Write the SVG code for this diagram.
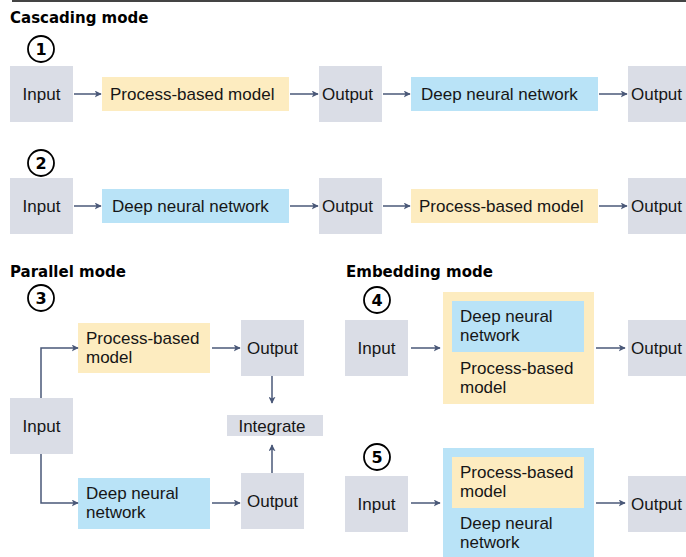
<svg xmlns="http://www.w3.org/2000/svg" width="686" height="557" viewBox="0 0 686 557">
  <style>
    .io { fill: #dadde6; }
    .pbm { fill: #fdecc0; }
    .dnn { fill: #b9e3f7; }
    .lbl { font-family: "Liberation Sans", Arial, sans-serif; font-size: 17px; fill: #161616; }
    .mid { text-anchor: middle; }
    .title { font-family: "DejaVu Sans", "Liberation Sans", sans-serif; font-weight: bold; font-size: 15px; fill: #000; }
    .num circle { fill: #fff; stroke: #000; stroke-width: 1.8; }
    .num text { font-family: "DejaVu Sans", "Liberation Sans", sans-serif; font-weight: bold; font-size: 16px; text-anchor: middle; fill: #000; }
    .conn { fill: none; stroke: #4a5878; stroke-width: 1.5; marker-end: url(#arrow); }
  </style>
  <defs>
    <marker id="arrow" viewBox="0 0 10 10" refX="9" refY="5" markerWidth="7" markerHeight="7" markerUnits="userSpaceOnUse" orient="auto">
      <path d="M0,0 L10,5 L0,10 L2.5,5 Z" fill="#4a5878"/>
    </marker>
  </defs>

  <rect x="0" y="0" width="686" height="557" fill="#fff"/>
  <line x1="12" y1="1" x2="686" y2="1" stroke="#444" stroke-width="2"/>

  <!-- section titles -->
  <text class="title" x="10" y="23">Cascading mode</text>
  <text class="title" x="10" y="277">Parallel mode</text>
  <text class="title" x="346" y="277">Embedding mode</text>

  <!-- step numbers -->
  <g class="num" id="num1"><circle cx="41" cy="49" r="13"/><text x="41" y="55">1</text></g>
  <g class="num" id="num2"><circle cx="41" cy="163" r="13"/><text x="41" y="169">2</text></g>
  <g class="num" id="num3"><circle cx="41" cy="298" r="13"/><text x="41" y="304">3</text></g>
  <g class="num" id="num4"><circle cx="377" cy="300" r="13"/><text x="377" y="306">4</text></g>
  <g class="num" id="num5"><circle cx="377" cy="457" r="13"/><text x="377" y="463">5</text></g>

  <!-- cascading 1 -->
  <g id="c1-input"><rect class="io" x="10" y="66" width="63" height="56"/><text class="lbl mid" x="41.5" y="100">Input</text></g>
  <g id="c1-pbm"><rect class="pbm" x="102" y="77" width="187" height="34"/><text class="lbl" x="110" y="100">Process-based model</text></g>
  <g id="c1-out1"><rect class="io" x="319" y="66" width="63" height="56"/><text class="lbl" x="322" y="100">Output</text></g>
  <g id="c1-dnn"><rect class="dnn" x="411" y="77" width="187" height="34"/><text class="lbl" x="421" y="100">Deep neural network</text></g>
  <g id="c1-out2"><rect class="io" x="628" y="66" width="58" height="56"/><text class="lbl" x="631" y="100">Output</text></g>

  <!-- cascading 2 -->
  <g id="c2-input"><rect class="io" x="10" y="178" width="63" height="56"/><text class="lbl mid" x="41.5" y="212">Input</text></g>
  <g id="c2-dnn"><rect class="dnn" x="102" y="189" width="187" height="34"/><text class="lbl" x="112" y="212">Deep neural network</text></g>
  <g id="c2-out1"><rect class="io" x="319" y="178" width="63" height="56"/><text class="lbl" x="322" y="212">Output</text></g>
  <g id="c2-pbm"><rect class="pbm" x="411" y="189" width="187" height="34"/><text class="lbl" x="419" y="212">Process-based model</text></g>
  <g id="c2-out2"><rect class="io" x="628" y="178" width="58" height="56"/><text class="lbl" x="631" y="212">Output</text></g>

  <!-- parallel 3 -->
  <g id="p-input"><rect class="io" x="10" y="398" width="63" height="56"/><text class="lbl mid" x="41.5" y="432">Input</text></g>
  <g id="p-pbm"><rect class="pbm" x="78" y="323" width="132" height="50"/><text class="lbl" x="86" y="344">Process-based</text><text class="lbl" x="86" y="363">model</text></g>
  <g id="p-dnn"><rect class="dnn" x="78" y="478" width="132" height="51"/><text class="lbl" x="86" y="499">Deep neural</text><text class="lbl" x="86" y="518">network</text></g>
  <g id="p-out1"><rect class="io" x="241" y="320" width="63" height="56"/><text class="lbl mid" x="272.5" y="354">Output</text></g>
  <g id="p-out2"><rect class="io" x="241" y="473" width="63" height="56"/><text class="lbl mid" x="272.5" y="507">Output</text></g>
  <g id="p-integrate"><rect class="io" x="227" y="415" width="96" height="21"/><text class="lbl mid" x="272" y="431.5">Integrate</text></g>

  <!-- embedding 4 -->
  <g id="e4-input"><rect class="io" x="345" y="320" width="63" height="56"/><text class="lbl mid" x="376.5" y="354">Input</text></g>
  <g id="e4-pbm"><rect class="pbm" x="443" y="292" width="151" height="112"/>
    <text class="lbl" x="460" y="374">Process-based</text><text class="lbl" x="460" y="393">model</text></g>
  <g id="e4-dnn"><rect class="dnn" x="452" y="301" width="132" height="51"/>
    <text class="lbl" x="460" y="322">Deep neural</text><text class="lbl" x="460" y="341">network</text></g>
  <g id="e4-out"><rect class="io" x="628" y="320" width="58" height="56"/><text class="lbl" x="631" y="354">Output</text></g>

  <!-- embedding 5 -->
  <g id="e5-input"><rect class="io" x="345" y="476" width="63" height="56"/><text class="lbl mid" x="376.5" y="510">Input</text></g>
  <g id="e5-dnn"><rect class="dnn" x="443" y="448" width="151" height="109"/>
    <text class="lbl" x="460" y="529">Deep neural</text><text class="lbl" x="460" y="548">network</text></g>
  <g id="e5-pbm"><rect class="pbm" x="452" y="457" width="132" height="51"/>
    <text class="lbl" x="460" y="478">Process-based</text><text class="lbl" x="460" y="497">model</text></g>
  <g id="e5-out"><rect class="io" x="628" y="476" width="58" height="56"/><text class="lbl" x="631" y="510">Output</text></g>

  <!-- connectors -->
  <g id="connectors">
    <line class="conn" x1="74" y1="94" x2="101" y2="94"/>
    <line class="conn" x1="290" y1="94" x2="318" y2="94"/>
    <line class="conn" x1="383" y1="94" x2="410" y2="94"/>
    <line class="conn" x1="599" y1="94" x2="627" y2="94"/>

    <line class="conn" x1="74" y1="206" x2="101" y2="206"/>
    <line class="conn" x1="290" y1="206" x2="318" y2="206"/>
    <line class="conn" x1="383" y1="206" x2="410" y2="206"/>
    <line class="conn" x1="599" y1="206" x2="627" y2="206"/>

    <polyline class="conn" points="41,398 41,348 78,348"/>
    <polyline class="conn" points="41,454 41,503 78,503"/>
    <line class="conn" x1="212" y1="348" x2="240" y2="348"/>
    <line class="conn" x1="212" y1="503" x2="240" y2="503"/>
    <line class="conn" x1="272" y1="376" x2="272" y2="403"/>
    <line class="conn" x1="272" y1="473" x2="272" y2="445"/>

    <line class="conn" x1="411" y1="348" x2="440" y2="348"/>
    <line class="conn" x1="596" y1="348" x2="625" y2="348"/>
    <line class="conn" x1="411" y1="503" x2="440" y2="503"/>
    <line class="conn" x1="596" y1="503" x2="625" y2="503"/>
  </g>
</svg>
